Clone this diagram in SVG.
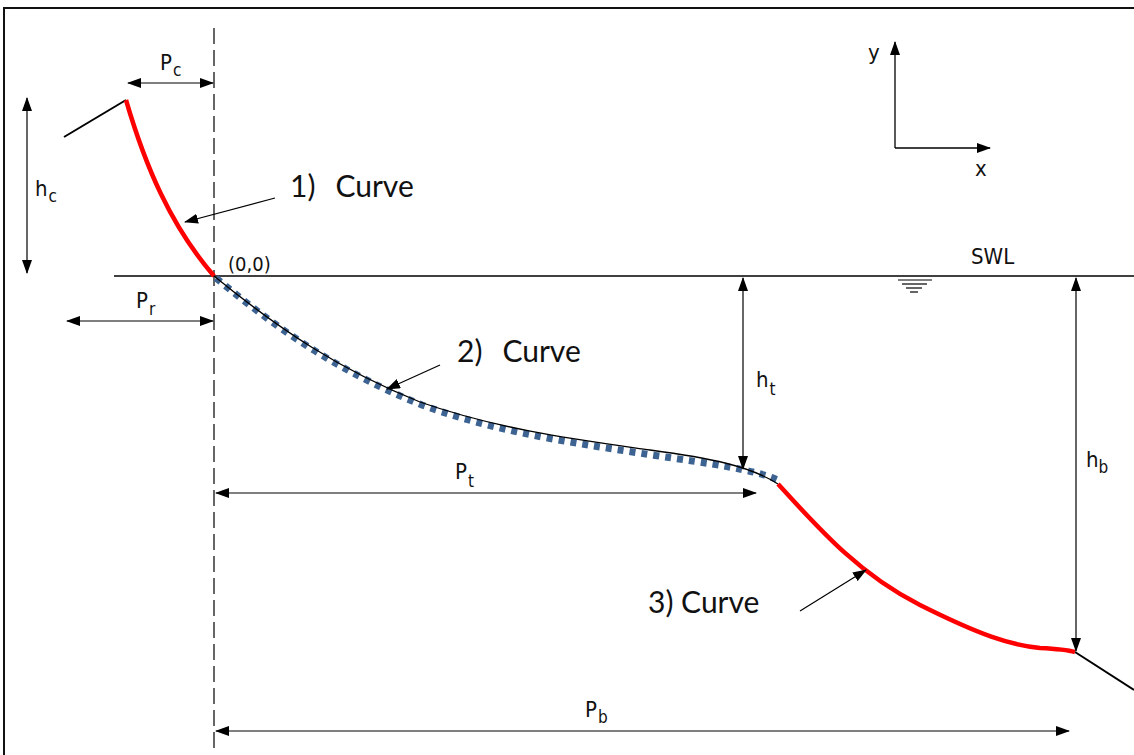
<svg xmlns="http://www.w3.org/2000/svg" width="1134" height="755" viewBox="0 0 1134 755">
<defs>
<marker id="ah" markerWidth="14" markerHeight="10" refX="13" refY="5" orient="auto-start-reverse" markerUnits="userSpaceOnUse">
<path d="M0,0 L14,5 L0,10 Z" fill="#000"/>
</marker>
<style>
.dim{stroke:#000;stroke-width:1.2;fill:none}
.thin{stroke:#000;stroke-width:1.3;fill:none}
.red{stroke:#ff0000;stroke-width:4.5;fill:none;stroke-linecap:butt}
.blue{stroke:#3d6392;stroke-width:7;fill:none;stroke-dasharray:6 6}
.lbl{font-family:"DejaVu Sans Condensed","DejaVu Sans",sans-serif;font-size:22px;fill:#111}
.sub{font-size:17px}
.cv{font-family:Lato,"Open Sans",sans-serif;font-size:30px;fill:#111}
</style>
</defs>
<rect width="1134" height="755" fill="#fff"/>
<path d="M4,755 L4,8 L1134,8" stroke="#111" stroke-width="2" fill="none"/>

<g id="reference-lines">
<line x1="214" y1="28" x2="214" y2="752" stroke="#000" stroke-width="1.2" stroke-dasharray="16 6"/>
<line x1="114" y1="276" x2="1134" y2="276" stroke="#000" stroke-width="1.3"/>
<g id="swl-symbol" stroke="#000" stroke-width="1.2">
<line x1="898" y1="280" x2="932" y2="280"/>
<line x1="902" y1="284" x2="927" y2="284"/>
<line x1="906" y1="288" x2="922" y2="288"/>
<line x1="910" y1="292" x2="918" y2="292"/>
</g>
<text class="lbl" x="971" y="264">SWL</text>
</g>

<g id="profile">
<line x1="64" y1="137" x2="126" y2="100" style="stroke:#000;stroke-width:2"/>
<path class="blue" d="M216,278 C282,333 342,373 422,405 C502,434 582,444 652,455 C712,464 752,469 778,480"/>
<path class="thin" d="M214,276 C280,330 340,370 420,402 C500,430 580,440 650,450 C710,458 750,466 778,484"/>
<line x1="1075" y1="652" x2="1134" y2="690" style="stroke:#000;stroke-width:2"/>
</g>

<g id="curve1">
<path class="red" d="M126,100 C145,165 170,225 214,276"/>
</g>
<g id="curve3">
<path class="red" d="M778,484 C820,530 860,575 920,605 C980,635 1010,645 1040,648 C1060,649 1068,650 1075,652"/>
</g>

<g id="axes">
<line class="thin" x1="895" y1="148" x2="895" y2="42" marker-end="url(#ah)"/>
<line class="thin" x1="895" y1="148" x2="990" y2="148" marker-end="url(#ah)"/>
<text class="lbl" x="868" y="60">y</text>
<text class="lbl" x="975" y="176">x</text>
</g>

<g id="connectors">
<line class="dim" x1="128" y1="83" x2="213" y2="83" marker-start="url(#ah)" marker-end="url(#ah)"/>
<line class="dim" x1="27" y1="98" x2="27" y2="273" marker-start="url(#ah)" marker-end="url(#ah)"/>
<line class="dim" x1="67" y1="321" x2="213" y2="321" marker-start="url(#ah)" marker-end="url(#ah)"/>
<line class="dim" x1="743" y1="278" x2="743" y2="469" marker-start="url(#ah)" marker-end="url(#ah)"/>
<line class="dim" x1="216" y1="493" x2="756" y2="493" marker-start="url(#ah)" marker-end="url(#ah)"/>
<line class="dim" x1="1076" y1="278" x2="1076" y2="651" marker-start="url(#ah)" marker-end="url(#ah)"/>
<line class="dim" x1="216" y1="731" x2="1069" y2="731" marker-start="url(#ah)" marker-end="url(#ah)"/>
<line class="dim" x1="275" y1="198" x2="185" y2="222" marker-end="url(#ah)"/>
<line class="dim" x1="440" y1="365" x2="387" y2="389" marker-end="url(#ah)"/>
<line class="dim" x1="800" y1="611" x2="866" y2="570" marker-end="url(#ah)"/>
</g>

<g id="labels">
<text class="lbl" x="160" y="70">P<tspan class="sub" dx="1" dy="6">c</tspan></text>
<text class="lbl" x="35" y="196">h<tspan class="sub" dx="1" dy="6">c</tspan></text>
<text class="lbl" x="136" y="308">P<tspan class="sub" dx="1" dy="7">r</tspan></text>
<text class="lbl" x="228" y="271" style="font-size:20px">(0,0)</text>
<text class="lbl" x="756" y="387">h<tspan class="sub" dx="1" dy="8">t</tspan></text>
<text class="lbl" x="455" y="479">P<tspan class="sub" dx="1" dy="8">t</tspan></text>
<text class="lbl" x="1086" y="467">h<tspan class="sub" dx="0" dy="6">b</tspan></text>
<text class="lbl" x="585" y="717">P<tspan class="sub" dx="1" dy="6">b</tspan></text>
<text class="cv" x="290" y="197">1)<tspan dx="20">Curve</tspan></text>
<text class="cv" x="457" y="362">2)<tspan dx="20">Curve</tspan></text>
<text class="cv" x="648" y="613">3) Curve</text>
</g>
</svg>
